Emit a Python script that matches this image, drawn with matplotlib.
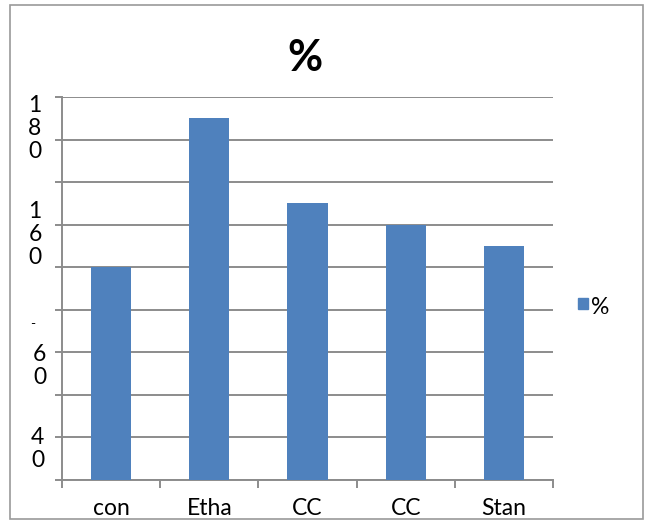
import matplotlib.pyplot as plt
import numpy as np
from matplotlib.patches import Rectangle

plt.rcParams['font.family'] = ['Lato', 'DejaVu Sans']

# bar data
categories = ['con', 'Etha', 'CC', 'CC', 'Stan']
values = [100, 170, 130, 120, 110]
series_name = '%'

# y axis labels as they appear (wrapped one character per line)
ylabel_texts = ['1\n8\n0', '1\n6\n0', '-', '6\n0', '4\n0']
ylabel_tops = [181, 131, 76, 64, 25]
ylabel_x = [-0.055, -0.055, -0.06, -0.045, -0.05]
ylabel_sizes = [16.5, 16.5, 10, 16.5, 16.5]

bar_color = '#4F81BD'
grid_color = '#8C8C8C'

fig = plt.figure(figsize=(6.53, 5.27), dpi=100)
ax = fig.add_axes([62 / 653, 47 / 527, 491 / 653, 383 / 527])

x = np.arange(len(categories))
ax.bar(x, values, width=0.41, color=bar_color, zorder=3, label=series_name)

ax.set_xlim(-0.5, len(categories) - 0.5)
ax.set_ylim(0, 180)

# horizontal gridlines every 20
ax.set_yticks(np.arange(0, 181, 20))
ax.set_yticklabels([])
ax.yaxis.grid(True, color=grid_color, linewidth=1.4, zorder=0)
ax.tick_params(axis='y', length=5, width=1.4, color=grid_color)

# category labels, tick marks between categories
ax.set_xticks(x)
ax.set_xticklabels(categories, fontsize=16.5)
ax.set_xticks(np.arange(-0.5, len(categories)), minor=True)
ax.tick_params(axis='x', which='major', length=0, pad=13)
ax.tick_params(axis='x', which='minor', length=6, width=1.4, color=grid_color)

for side in ['top', 'right']:
    ax.spines[side].set_visible(False)
for side in ['left', 'bottom']:
    ax.spines[side].set_color(grid_color)
    ax.spines[side].set_linewidth(1.4)

for txt, top, xo, fs in zip(ylabel_texts, ylabel_tops, ylabel_x, ylabel_sizes):
    ax.text(xo, top, txt, transform=ax.get_yaxis_transform(), ha='center', va='top',
            fontsize=fs, linespacing=1.12, clip_on=False)

fig.text(305 / 653, 1 - 58 / 527, '%', fontsize=31, fontweight='bold', ha='center', va='center')

# legend
fig.patches.append(Rectangle((578 / 653, 1 - 309 / 527), 10 / 653, 11 / 527,
                             transform=fig.transFigure, color=bar_color))
fig.text(591 / 653, 1 - 307 / 527, series_name, fontsize=16.5, ha='left', va='center')

# chart border
fig.patches.append(Rectangle((10 / 653, 8 / 527), 633 / 653, 514 / 527, transform=fig.transFigure,
                             fill=False, edgecolor='#9A9A9A', linewidth=1.2))

fig.savefig('out.png', dpi=100)
